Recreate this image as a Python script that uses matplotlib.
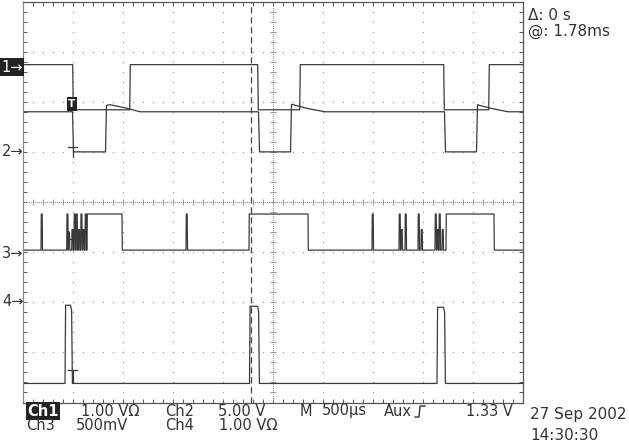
import numpy as np
import matplotlib
matplotlib.use("Agg")
import matplotlib.pyplot as plt
from matplotlib.lines import Line2D

# ---------------- data (time in ms, amplitude in screen divisions) ----------------
ch1_edges = [0.50, 1.07, 2.35, 2.77, 4.21, 4.66]
ch1_levels = [6.74, 5.84, 6.74, 5.84, 6.74, 5.84, 6.74]

ch2_t = [0.0, 0.495, 0.505, 0.825, 0.835, 0.87, 1.02, 1.17,
         2.355, 2.365, 2.675, 2.685, 2.72, 2.86, 3.02,
         4.215, 4.225, 4.535, 4.545, 4.58, 4.70, 4.85, 5.0]
ch2_v = [5.80, 5.80, 5.00, 5.00, 5.93, 5.94, 5.88, 5.80,
         5.80, 5.00, 5.00, 5.95, 5.93, 5.86, 5.80,
         5.80, 5.00, 5.00, 5.94, 5.92, 5.86, 5.80, 5.80]

ch3_base = 3.04
ch3_high = 3.76
ch3_pulses = [(0.64, 0.99), (2.26, 2.85), (4.23, 4.71)]
ch3_spike_t = [0.18, 0.437, 0.453, 0.487, 0.51, 0.53, 0.553, 0.577, 0.597, 0.62,
               1.63, 3.49, 3.76, 3.78, 3.82, 3.95, 3.98, 4.12, 4.14, 4.16, 4.19]
ch3_spike_top = [3.76, 3.76, 3.40, 3.45, 3.76, 3.76, 3.45, 3.76, 3.45, 3.76,
                 3.76, 3.76, 3.76, 3.45, 3.76, 3.76, 3.45, 3.76, 3.45, 3.76, 3.45]

ch4_base = 0.38
ch4_pulses = [(0.42, 0.49, 1.94), (2.265, 2.36, 1.92), (4.14, 4.22, 1.90)]

cursor_t = 2.28

# ---------------- helpers building polylines ----------------
def step_trace(edges, levels, t0=0.0, t1=5.0, rise=0.006):
    t, v = [t0], [levels[0]]
    for i, e in enumerate(edges):
        t += [e - rise / 2, e + rise / 2]
        v += [levels[i], levels[i + 1]]
    t.append(t1); v.append(levels[-1])
    return t, v

def ch3_trace():
    events = []
    for a, b in ch3_pulses:
        events.append((a, "pulse", b, ch3_high))
    for s, top in zip(ch3_spike_t, ch3_spike_top):
        events.append((s, "spike", s + 0.012, top))
    events.sort()
    t, v = [0.0], [ch3_base]
    for a, kind, b, top in events:
        t += [a, a + 0.003, b, b + 0.003]
        v += [ch3_base, top, top, ch3_base]
    t.append(5.0); v.append(ch3_base)
    return t, v

def ch4_trace():
    t, v = [0.0], [ch4_base]
    for a, b, top in ch4_pulses:
        t += [a, a + 0.006, b - 0.015, b - 0.004, b + 0.004]
        v += [ch4_base, top, top, top - 0.1, ch4_base]
    t.append(5.0); v.append(ch4_base)
    return t, v

# ---------------- figure ----------------
W, H = 629, 442
fig = plt.figure(figsize=(W / 100, H / 100), dpi=100)
fig.patch.set_facecolor("white")
L, R, T, B = 23, 523, 1.5, 402.5
ax = fig.add_axes([L / W, 1 - B / H, (R - L) / W, (B - T) / H])
ax.set_xlim(0, 5)
ax.set_ylim(0, 8)
ax.set_facecolor("white")

frame_c = "#555555"
grid_c = "#999999"
trace_c = "#3a3a3a"

for s in ax.spines.values():
    s.set_color(frame_c)
    s.set_linewidth(0.9)
ax.spines["left"].set_color("#888888")
ax.set_xticks(np.arange(0, 5.001, 0.1))
ax.set_yticks(np.arange(0, 8.001, 0.2))
ax.tick_params(direction="in", length=3, width=0.7, color=frame_c,
               top=True, right=True, labelbottom=False, labelleft=False)

# dotted grid
gx, gy = [], []
for y in range(1, 8):
    for x in np.arange(0.1, 5.0, 0.1):
        gx.append(x); gy.append(y)
for x in np.arange(0.5, 5.0, 0.5):
    for y in np.arange(0.2, 8.0, 0.2):
        gx.append(x); gy.append(y)
ax.plot(gx, gy, ls="none", marker="s", ms=0.9, mew=0, color=grid_c)
# center crosshair dense dots + ticks
cx = np.arange(0.02, 5.0, 0.02)
ax.plot(cx, np.full_like(cx, 4.0), ls="none", marker="s", ms=0.8, mew=0, color=grid_c)
cy = np.arange(0.04, 8.0, 0.04)
ax.plot(np.full_like(cy, 2.5), cy, ls="none", marker="s", ms=0.8, mew=0, color=grid_c)
tx = np.arange(0.1, 5.0, 0.1)
ax.plot(tx, np.full_like(tx, 4.0), ls="none", marker="|", ms=5, mew=0.7, color=grid_c)
ty = np.arange(0.2, 8.0, 0.2)
ax.plot(np.full_like(ty, 2.5), ty, ls="none", marker="_", ms=5, mew=0.7, color=grid_c)

# cursor
ax.axvline(cursor_t, color="#444444", lw=0.9, dashes=(5, 3))

# traces
t1, v1 = step_trace(ch1_edges, ch1_levels)
ax.plot(t1, v1, color=trace_c, lw=0.9)
ax.plot(ch2_t, ch2_v, color=trace_c, lw=0.9)
t3, v3 = ch3_trace()
ax.plot(t3, v3, color=trace_c, lw=0.9)
t4, v4 = ch4_trace()
ax.plot(t4, v4, color=trace_c, lw=0.9)

# trigger-point marks
for yb, yl in [(5.10, 4.90), (3.26, 3.04), (0.64, 0.40)]:
    ax.plot([0.45, 0.54], [yb, yb], color=trace_c, lw=0.9)
    ax.plot([0.495, 0.495], [yb, yl], color=trace_c, lw=0.9)

# ---------------- text ----------------
tc = "#333333"
FONT = "DejaVu Sans"

def ftext(x, y, s, size=10.5, **kw):
    fig.text(x / W, 1 - y / H, s, fontsize=size, color=kw.pop("color", tc),
             va="center", ha=kw.pop("ha", "left"), family=FONT, **kw)

# channel ground markers
fig.text(1 / W, 1 - 67 / H, "1\u2192", fontsize=10.5, color="white", va="center",
         ha="left", family=FONT,
         bbox=dict(boxstyle="square,pad=0.12", facecolor="#222222", edgecolor="none"))
for k, yp in [("2", 152), ("3", 253), ("4", 302)]:
    ftext(2, yp, k + "\u2192", size=10.5)

# trigger level "T" box
fig.text(72 / W, 1 - 104 / H, "T", fontsize=7.5, color="white", va="center",
         ha="center", family=FONT, fontweight="bold",
         bbox=dict(boxstyle="square,pad=0.15", facecolor="#222222", edgecolor="none"))

# right side readouts
ftext(528, 15, "\u0394: 0 s", size=11)
ftext(528, 31, "@: 1.78ms", size=11)

# bottom readouts
fig.text(27 / W, 1 - 411 / H, "Ch1", fontsize=10.5, color="white", va="center",
         ha="left", family=FONT, fontweight="bold",
         bbox=dict(boxstyle="square,pad=0.08", facecolor="#222222", edgecolor="none"))
ftext(81, 411, "1.00 V\u03a9")
ftext(165, 411, "Ch2")
ftext(218, 411, "5.00 V")
ftext(300, 411, "M")
ftext(322, 411, "500\u00b5s")
ftext(384, 411, "Aux")
ftext(466, 411, "1.33 V")
ftext(26, 425, "Ch3")
ftext(76, 425, "500mV")
ftext(165, 425, "Ch4")
ftext(219, 425, "1.00 V\u03a9")
ftext(530, 414, "27 Sep 2002", size=11)
ftext(530, 435, "14:30:30", size=11)

# Aux rising-edge glyph (pixel coords)
px = [415, 419, 420, 425]
py = [417, 417, 406, 406]
fig.add_artist(Line2D([p / W for p in px], [1 - p / H for p in py],
                      transform=fig.transFigure, color=tc, lw=1.0))

fig.savefig("out.png", dpi=100, facecolor="white")
